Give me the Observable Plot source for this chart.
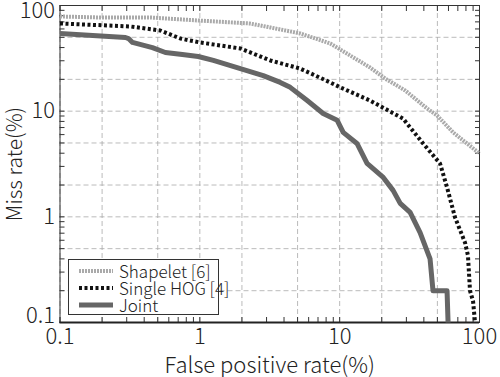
<!DOCTYPE html>
<html>
<head>
<meta charset="utf-8">
<script src="https://cdn.jsdelivr.net/npm/d3@7"></script>
<script src="https://cdn.jsdelivr.net/npm/@observablehq/plot@0.6"></script>
<style>
  html, body { margin: 0; padding: 0; background: #fff; }
  #wrap { position: relative; width: 500px; height: 377px; font-family: "Noto Sans CJK JP", "Noto Sans", sans-serif; font-weight: 300; }
  #legend { position: absolute; left: 68px; top: 259px; width: 149px; height: 54px; border: 1.5px solid #333; background: #fff; box-sizing: content-box; }
  #legend .row { position: absolute; left: 0; height: 17px; line-height: 17px; display: flex; align-items: center; font-size: 17px; color: #222; white-space: nowrap; }
  #legend .row span { display: inline-block; height: 16px; line-height: 16px; overflow: visible; }
  #legend svg { margin-left: 10px; margin-right: 6px; }
</style>
</head>
<body>
<div id="wrap"></div>
<script>
// ---- data (false positive rate %, miss rate %) ----
const shapeletFP = [0.1, 0.195, 0.443, 1.0, 2.27, 3.19, 5.22, 8.56, 11.9, 16.5, 21.1, 29.4, 42.2, 49.7, 64.7, 100];
const shapeletMR = [78.7, 77, 77, 72, 67.6, 62, 54.4, 43.7, 33.6, 25.9, 20.4, 15.7, 10.6, 9.1, 6.3, 3.98];

const hogFP = [0.1, 0.319, 0.522, 0.726, 1.0, 1.95, 3.19, 5.22, 8.56, 10.1, 16.5, 28.4, 39.5, 52.2, 58.6, 66.8, 78.8, 82.7, 85.5, 89.9, 92.9];
const hogMR = [67.6, 63.3, 58, 48.7, 44.7, 39.2, 30.2, 25.3, 18.7, 16.8, 12.6, 8.5, 4.95, 3.2, 1.9, 0.99, 0.57, 0.43, 0.20, 0.16, 0.1];

const jointFP = [0.1, 0.294, 0.309, 0.33, 0.458, 0.567, 0.75, 0.974, 1.25, 1.95, 2.84, 3.76, 4.43, 5.86, 7.62, 9.6, 10.6, 13.3, 15.7, 20.5, 24.1, 27.1, 31.9, 37.6, 44.3, 46.5, 58.6, 59.6];
const jointMR = [54.4, 49.8, 48.7, 44.7, 40, 35.9, 34.4, 32.9, 30.2, 25.3, 21.7, 18.7, 16.8, 12.6, 9.5, 8.2, 6.3, 4.95, 3.2, 2.36, 1.78, 1.34, 1.10, 0.71, 0.40, 0.2, 0.2, 0.1];

const seriesNames = ["Shapelet [6]", "Single HOG [4]", "Joint"];
const majorTicks = [0.1, 1, 10, 100];
const majorLabels = ["0.1", "1", "10", "100"];
const gridTicks = [0.1, 0.2, 0.5, 1, 2, 5, 10, 20, 50, 100];
const minorTicks = [0.1,0.2,0.3,0.4,0.5,0.6,0.7,0.8,0.9,1,2,3,4,5,6,7,8,9,10,20,30,40,50,60,70,80,90,100];
const xTitle = "False positive rate(%)";
const yTitle = "Miss rate(%)";

const toRows = (xs, ys) => xs.map((x, i) => ({x, y: ys[i]}));
const shapelet = toRows(shapeletFP, shapeletMR);
const hog = toRows(hogFP, hogMR);
const joint = toRows(jointFP, jointMR);

const font = "\"Noto Sans CJK JP\", \"Noto Sans\", sans-serif";
const lab = (d) => majorLabels[majorTicks.indexOf(d)];
const tickText = {tickSize: 0, tickFormat: lab, label: null, fontSize: 22, fontWeight: 300, fill: "#222"};

const chart = Plot.plot({
  width: 500,
  height: 377,
  marginLeft: 59.5,
  marginRight: 21,
  marginTop: 5,
  marginBottom: 55,
  style: {fontFamily: font, fontWeight: 300, background: "#fff", color: "#222", overflow: "visible"},
  x: {type: "log", domain: [0.1, 100]},
  y: {type: "log", domain: [0.1, 100]},
  marks: [
    Plot.gridX(gridTicks, {stroke: "#aaa", strokeOpacity: 1, strokeDasharray: "5,3", strokeWidth: 0.8}),
    Plot.gridY(gridTicks, {stroke: "#aaa", strokeOpacity: 1, strokeDasharray: "5,3", strokeWidth: 0.8}),
    Plot.axisX({anchor: "bottom", ticks: minorTicks, tickSize: -5, tickFormat: () => "", label: null, stroke: "#333"}),
    Plot.axisX({anchor: "top", ticks: minorTicks, tickSize: -5, tickFormat: () => "", label: null, stroke: "#333"}),
    Plot.axisY({anchor: "left", ticks: minorTicks, tickSize: -5, tickFormat: () => "", label: null, stroke: "#333"}),
    Plot.axisY({anchor: "right", ticks: minorTicks, tickSize: -5, tickFormat: () => "", label: null, stroke: "#333"}),
    Plot.axisX({anchor: "bottom", ticks: majorTicks, tickPadding: 6, ...tickText}),
    Plot.axisY({anchor: "left", ticks: majorTicks.slice(1, 3), tickPadding: 5, ...tickText}),
    Plot.axisY({anchor: "left", ticks: majorTicks.slice(0, 1), tickPadding: 5, dy: -7, ...tickText}),
    Plot.axisY({anchor: "left", ticks: majorTicks.slice(3), tickPadding: 5, dy: 5, ...tickText}),
    Plot.frame({stroke: "#333", strokeWidth: 1}),
    Plot.ruleY([0.1], {stroke: "#222", strokeWidth: 2}),
    Plot.line(shapelet, {x: "x", y: "y", stroke: "#aaa", strokeWidth: 4, strokeDasharray: "2,1", strokeLinecap: "butt", strokeLinejoin: "round"}),
    Plot.line(hog, {x: "x", y: "y", stroke: "#111", strokeWidth: 4, strokeDasharray: "3,2.5", strokeLinecap: "butt", strokeLinejoin: "round"}),
    Plot.line(joint, {x: "x", y: "y", stroke: "#666", strokeWidth: 5, strokeLinecap: "butt"}),
    Plot.text([xTitle], {frameAnchor: "bottom", lineAnchor: "middle", textAnchor: "middle", dy: 43, fontSize: 22, fontWeight: 300, fill: "#222"}),
    Plot.text([yTitle], {frameAnchor: "left", textAnchor: "middle", lineAnchor: "middle", dx: -45, rotate: -90, fontSize: 21, fontWeight: 300, fill: "#222"})
  ]
});

const wrap = document.getElementById("wrap");
wrap.appendChild(chart);

// legend
const styles = [
  {stroke: "#aaa", width: 4, dash: "2,1"},
  {stroke: "#111", width: 4, dash: "3,2.5"},
  {stroke: "#666", width: 5, dash: null}
];
const legend = document.createElement("div");
legend.id = "legend";
seriesNames.forEach((name, i) => {
  const row = document.createElement("div");
  row.className = "row";
  row.style.top = (2 + i * 17) + "px";
  const s = styles[i];
  row.innerHTML = `<svg width="34" height="10"><line x1="0" x2="34" y1="5" y2="5" stroke="${s.stroke}" stroke-width="${s.width}" ${s.dash ? `stroke-dasharray="${s.dash}"` : ""}/></svg><span>${name}</span>`;
  legend.appendChild(row);
});
wrap.appendChild(legend);
</script>
</body>
</html>
